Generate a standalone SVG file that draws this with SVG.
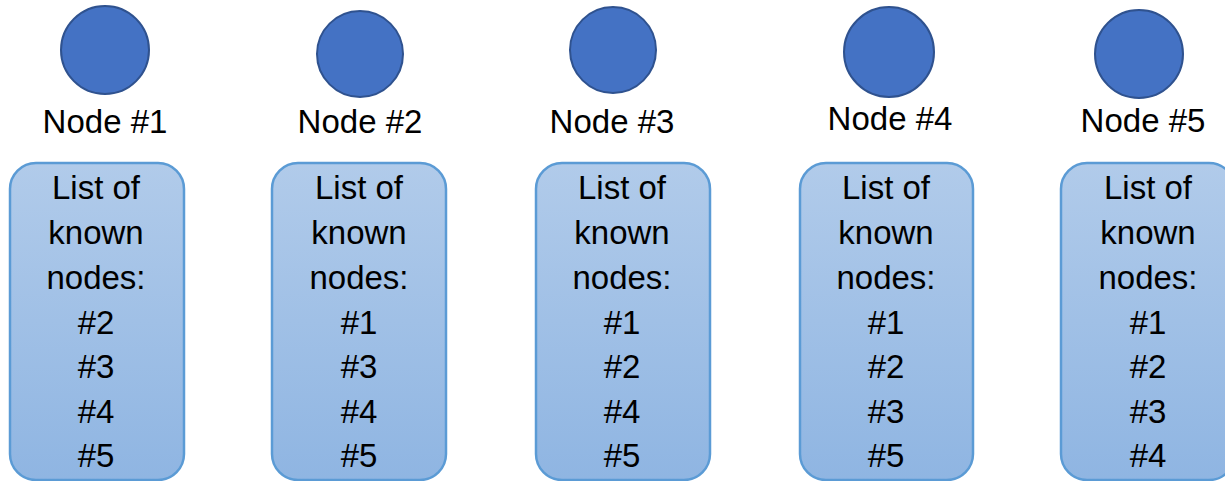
<svg xmlns="http://www.w3.org/2000/svg" width="1225" height="481" viewBox="0 0 1225 481">
<style>
.c{fill:#4472c4;stroke:#2f528f;stroke-width:2}
.b{fill:url(#g);stroke:#5b9bd5;stroke-width:2.5}
text{font-family:"Liberation Sans",Arial,sans-serif;font-size:33px;fill:#000;text-anchor:middle}
</style>
<defs>
<linearGradient id="g" x1="0" y1="0" x2="0" y2="1">
<stop offset="0" stop-color="#b1cbea"/>
<stop offset="1" stop-color="#8fb5e2"/>
</linearGradient>
</defs>
<g id="connectors"/>
<g id="node1">
<circle class="c" cx="105" cy="50" r="44"/>
<text x="105" y="133">Node #1</text>
<rect class="b" x="10" y="163" width="174" height="317" rx="26"/>
<text x="96"><tspan x="96" y="199">List of</tspan><tspan x="96" y="244">known</tspan><tspan x="96" y="289">nodes:</tspan><tspan x="96" y="334">#2</tspan><tspan x="96" y="378">#3</tspan><tspan x="96" y="423">#4</tspan><tspan x="96" y="467">#5</tspan></text>
</g>
<g id="node2">
<circle class="c" cx="360" cy="54" r="43"/>
<text x="360" y="133">Node #2</text>
<rect class="b" x="272" y="163" width="174" height="317" rx="26"/>
<text x="359"><tspan x="359" y="199">List of</tspan><tspan x="359" y="244">known</tspan><tspan x="359" y="289">nodes:</tspan><tspan x="359" y="334">#1</tspan><tspan x="359" y="378">#3</tspan><tspan x="359" y="423">#4</tspan><tspan x="359" y="467">#5</tspan></text>
</g>
<g id="node3">
<circle class="c" cx="613" cy="50" r="43"/>
<text x="612" y="133">Node #3</text>
<rect class="b" x="536" y="163" width="174" height="317" rx="26"/>
<text x="622"><tspan x="622" y="199">List of</tspan><tspan x="622" y="244">known</tspan><tspan x="622" y="289">nodes:</tspan><tspan x="622" y="334">#1</tspan><tspan x="622" y="378">#2</tspan><tspan x="622" y="423">#4</tspan><tspan x="622" y="467">#5</tspan></text>
</g>
<g id="node4">
<circle class="c" cx="889" cy="52" r="45"/>
<text x="890" y="130">Node #4</text>
<rect class="b" x="800" y="163" width="173" height="317" rx="26"/>
<text x="886"><tspan x="886" y="199">List of</tspan><tspan x="886" y="244">known</tspan><tspan x="886" y="289">nodes:</tspan><tspan x="886" y="334">#1</tspan><tspan x="886" y="378">#2</tspan><tspan x="886" y="423">#3</tspan><tspan x="886" y="467">#5</tspan></text>
</g>
<g id="node5">
<circle class="c" cx="1139" cy="54" r="44"/>
<text x="1143" y="132">Node #5</text>
<rect class="b" x="1061" y="163" width="174" height="317" rx="26"/>
<text x="1148"><tspan x="1148" y="199">List of</tspan><tspan x="1148" y="244">known</tspan><tspan x="1148" y="289">nodes:</tspan><tspan x="1148" y="334">#1</tspan><tspan x="1148" y="378">#2</tspan><tspan x="1148" y="423">#3</tspan><tspan x="1148" y="467">#4</tspan></text>
</g>
</svg>
